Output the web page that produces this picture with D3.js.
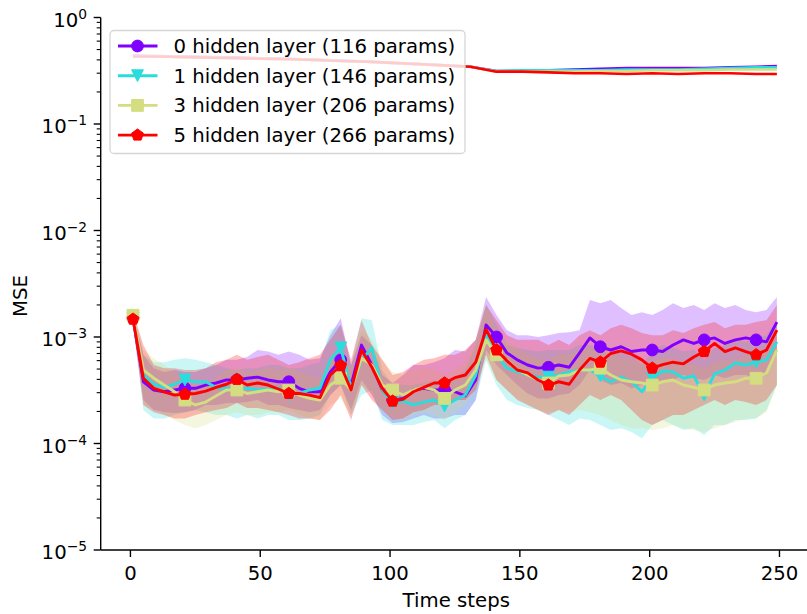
<!DOCTYPE html>
<html><head><meta charset="utf-8">
<script src="https://cdn.jsdelivr.net/npm/d3@7/dist/d3.min.js"></script>
<style>body{margin:0;background:#fff} text{font-family:"DejaVu Sans",sans-serif;fill:#000}</style>
</head><body><svg id="c" width="807" height="614"></svg>
<script>
// ---------------- DATA ----------------
const seriesNames = ["0 hidden layer (116 params)","1 hidden layer (146 params)","3 hidden layer (206 params)","5 hidden layer (266 params)"];
const seriesColors = ["#8000ff","#2adddd","#d4dd80","#ff0000"];
const seriesMarkers = ["circle","triangleDown","square","pentagon"];
// time steps sampled every 4 steps (1..249)
const steps = [1,5,9,13,17,21,25,29,33,37,41,45,49,53,57,61,65,69,73,77,81,85,89,93,97,101,105,109,113,117,121,125,129,133,137,141,145,149,153,157,161,165,169,173,177,181,185,189,193,197,201,205,209,213,217,221,225,229,233,237,241,245,249];
const markerSteps = [1,21,41,61,81,101,121,141,161,181,201,221,241];

// test MSE (mean)
const mean0 = [1.5e-3,3.8e-4,3.18e-4,3.06e-4,3.18e-4,3.3e-4,3.3e-4,3.54e-4,3.7e-4,3.95e-4,3.95e-4,4.1e-4,4.2e-4,3.95e-4,3.8e-4,3.8e-4,3.3e-4,3.06e-4,3.06e-4,4.7e-4,6.1e-4,3.54e-4,8.4e-4,5.46e-4,3.18e-4,2.56e-4,2.65e-4,3.18e-4,3.3e-4,3.18e-4,3.18e-4,3.06e-4,2.8e-4,3.95e-4,1.3e-3,1.0e-3,7.1e-4,6.1e-4,5.46e-4,5.1e-4,5.2e-4,5.46e-4,5.2e-4,7.1e-4,9.8e-4,8.1e-4,7.55e-4,8.1e-4,7.3e-4,7.55e-4,7.55e-4,7.3e-4,8.4e-4,9.4e-4,8.7e-4,9.4e-4,9.8e-4,8.7e-4,9.4e-4,9.8e-4,9.4e-4,9.0e-4,1.38e-3];
const mean1 = [1.5e-3,4.4e-4,3.6e-4,3.36e-4,3.6e-4,3.95e-4,3.8e-4,3.8e-4,3.36e-4,3.3e-4,3.18e-4,3.3e-4,3.18e-4,3.25e-4,3.3e-4,2.85e-4,2.95e-4,3.18e-4,3.3e-4,6.1e-4,7.9e-4,3.3e-4,6.1e-4,7.9e-4,3.18e-4,2.4e-4,2.5e-4,2.3e-4,2.45e-4,2.56e-4,2.25e-4,2.56e-4,2.85e-4,4.4e-4,1.04e-3,6.8e-4,5.1e-4,4.7e-4,4.4e-4,4.2e-4,4.2e-4,4.4e-4,4.7e-4,4.9e-4,4.9e-4,4.3e-4,3.8e-4,4.2e-4,3.8e-4,3.06e-4,4.1e-4,4.8e-4,4.7e-4,4.1e-4,4.3e-4,2.85e-4,4.5e-4,4.9e-4,5.7e-4,5.46e-4,5.8e-4,6.1e-4,9.0e-4];
const mean3 = [1.6e-3,4.9e-4,4.1e-4,3.54e-4,3.06e-4,2.56e-4,2.3e-4,2.45e-4,2.8e-4,3.18e-4,3.18e-4,2.95e-4,3.06e-4,3.18e-4,3.06e-4,3.18e-4,2.85e-4,2.65e-4,2.56e-4,3.54e-4,4.1e-4,3.18e-4,6.3e-4,5.46e-4,3.54e-4,3.18e-4,2.85e-4,3.18e-4,3.36e-4,3.18e-4,2.65e-4,3.18e-4,3.54e-4,4.9e-4,9.4e-4,6.8e-4,6.1e-4,4.9e-4,4.4e-4,3.95e-4,3.7e-4,4.3e-4,4.4e-4,4.9e-4,4.9e-4,5.1e-4,4.4e-4,3.95e-4,3.8e-4,3.7e-4,3.54e-4,3.8e-4,3.95e-4,3.54e-4,3.36e-4,3.18e-4,3.54e-4,3.7e-4,3.8e-4,4.1e-4,4.1e-4,4.6e-4,7.55e-4];
const mean5 = [1.47e-3,4.1e-4,3.3e-4,3.06e-4,2.85e-4,2.9e-4,2.95e-4,3.1e-4,3.36e-4,3.6e-4,4.0e-4,3.54e-4,3.7e-4,3.54e-4,3.25e-4,2.95e-4,2.95e-4,2.85e-4,2.7e-4,4.4e-4,5.4e-4,3.18e-4,7.55e-4,5.2e-4,3.3e-4,2.5e-4,2.6e-4,3.06e-4,3.36e-4,3.7e-4,3.7e-4,4.15e-4,4.4e-4,5.8e-4,1.18e-3,7.55e-4,6.0e-4,4.9e-4,4.6e-4,3.95e-4,3.54e-4,3.8e-4,3.6e-4,4.9e-4,6.3e-4,5.8e-4,7.0e-4,7.4e-4,6.9e-4,6.1e-4,5.1e-4,5.5e-4,5.8e-4,5.6e-4,6.5e-4,7.3e-4,8.7e-4,7.3e-4,7.9e-4,7.3e-4,6.8e-4,7.55e-4,1.16e-3];

// spread bands (upper / lower)
const upper0 = [1.71e-3,6.8e-4,5.1e-4,4.7e-4,4.9e-4,4.7e-4,4.7e-4,5.1e-4,5.46e-4,6.1e-4,6.1e-4,6.5e-4,7.55e-4,7.3e-4,6.8e-4,7.3e-4,6.8e-4,6.1e-4,6.3e-4,1.04e-3,1.5e-3,5.46e-4,1.04e-3,8.4e-4,4.4e-4,3.7e-4,4.4e-4,5.46e-4,5.46e-4,5.8e-4,6.3e-4,7.55e-4,7.3e-4,9.4e-4,2.37e-3,1.61e-3,1.16e-3,1.04e-3,1.04e-3,1.0e-3,1.04e-3,1.09e-3,1.11e-3,1.16e-3,2.22e-3,2.07e-3,2.22e-3,1.87e-3,1.61e-3,1.71e-3,1.61e-3,1.79e-3,2.07e-3,1.87e-3,2.0e-3,1.79e-3,2.07e-3,1.87e-3,2.0e-3,1.79e-3,1.71e-3,1.79e-3,2.37e-3];
const lower0 = [1.3e-3,2.56e-4,2.06e-4,1.97e-4,1.93e-4,1.97e-4,2.06e-4,2.3e-4,2.3e-4,2.4e-4,2.4e-4,2.45e-4,2.56e-4,2.3e-4,2.3e-4,2.15e-4,2.06e-4,1.97e-4,2.06e-4,2.85e-4,3.54e-4,2.06e-4,3.95e-4,2.85e-4,1.85e-4,1.55e-4,1.59e-4,1.72e-4,1.85e-4,1.72e-4,1.72e-4,1.85e-4,1.85e-4,2.56e-4,7.55e-4,5.46e-4,4.4e-4,3.54e-4,2.95e-4,2.65e-4,2.65e-4,2.85e-4,2.95e-4,3.54e-4,4.9e-4,3.95e-4,3.54e-4,3.7e-4,3.3e-4,3.54e-4,3.54e-4,3.7e-4,3.95e-4,4.4e-4,4.1e-4,3.95e-4,4.4e-4,4.1e-4,4.4e-4,4.4e-4,4.1e-4,4.4e-4,7.55e-4];
const upper1 = [1.71e-3,6.8e-4,5.8e-4,5.8e-4,6.1e-4,6.3e-4,6.1e-4,5.8e-4,5.46e-4,5.1e-4,4.9e-4,5.1e-4,5.1e-4,5.46e-4,5.46e-4,5.1e-4,5.1e-4,5.46e-4,5.8e-4,1.16e-3,1.3e-3,5.46e-4,1.5e-3,1.44e-3,4.9e-4,3.54e-4,3.54e-4,3.54e-4,3.7e-4,3.95e-4,3.54e-4,4.1e-4,4.9e-4,8.4e-4,2.0e-3,1.3e-3,8.4e-4,7.9e-4,7.55e-4,7.3e-4,7.55e-4,7.55e-4,7.55e-4,8.4e-4,8.4e-4,7.55e-4,6.8e-4,7.55e-4,6.8e-4,5.46e-4,7.3e-4,8.4e-4,7.9e-4,7.3e-4,7.55e-4,6.1e-4,7.9e-4,8.4e-4,9.4e-4,9.0e-4,9.8e-4,1.04e-3,1.44e-3];
const lower1 = [1.3e-3,2.06e-4,1.72e-4,1.72e-4,1.85e-4,1.97e-4,2.06e-4,1.97e-4,1.85e-4,1.85e-4,1.72e-4,1.85e-4,1.72e-4,1.85e-4,1.85e-4,1.66e-4,1.66e-4,1.72e-4,1.85e-4,2.85e-4,3.54e-4,1.85e-4,2.85e-4,3.18e-4,1.66e-4,1.49e-4,1.49e-4,1.49e-4,1.59e-4,1.66e-4,1.39e-4,1.66e-4,1.85e-4,2.56e-4,6.1e-4,3.54e-4,2.56e-4,2.3e-4,2.15e-4,2.06e-4,1.85e-4,1.66e-4,1.49e-4,1.72e-4,1.66e-4,1.49e-4,1.34e-4,1.39e-4,1.28e-4,1.12e-4,1.49e-4,1.66e-4,1.49e-4,1.34e-4,1.39e-4,1.2e-4,1.49e-4,1.49e-4,1.66e-4,1.66e-4,1.72e-4,2.06e-4,3.54e-4];
const upper3 = [1.79e-3,7.55e-4,6.3e-4,5.46e-4,4.7e-4,3.95e-4,3.54e-4,3.54e-4,4.1e-4,4.9e-4,5.1e-4,4.7e-4,4.9e-4,5.1e-4,4.9e-4,5.1e-4,4.7e-4,4.4e-4,4.1e-4,6.1e-4,7.9e-4,4.9e-4,1.16e-3,9.4e-4,6.1e-4,4.7e-4,4.4e-4,4.9e-4,5.1e-4,4.9e-4,4.4e-4,4.9e-4,5.8e-4,9.4e-4,2.0e-3,1.16e-3,9.4e-4,7.9e-4,6.8e-4,6.3e-4,6.1e-4,6.8e-4,6.8e-4,7.55e-4,7.9e-4,8.4e-4,7.3e-4,6.3e-4,6.1e-4,6.1e-4,5.8e-4,6.3e-4,6.3e-4,5.8e-4,5.46e-4,5.1e-4,5.8e-4,6.1e-4,6.1e-4,6.8e-4,6.8e-4,7.55e-4,1.44e-3];
const lower3 = [1.38e-3,2.3e-4,2.06e-4,1.85e-4,1.66e-4,1.49e-4,1.39e-4,1.49e-4,1.66e-4,1.85e-4,1.97e-4,1.85e-4,1.85e-4,1.97e-4,1.97e-4,2.06e-4,1.85e-4,1.72e-4,1.66e-4,2.3e-4,2.65e-4,1.85e-4,3.54e-4,2.85e-4,2.06e-4,1.72e-4,1.66e-4,1.85e-4,1.97e-4,1.85e-4,1.66e-4,1.97e-4,2.3e-4,3.18e-4,6.1e-4,3.95e-4,3.18e-4,2.65e-4,2.3e-4,2.06e-4,1.97e-4,2.06e-4,1.97e-4,2.06e-4,1.97e-4,1.85e-4,1.66e-4,1.49e-4,1.39e-4,1.39e-4,1.34e-4,1.39e-4,1.49e-4,1.39e-4,1.34e-4,1.28e-4,1.39e-4,1.49e-4,1.59e-4,1.72e-4,1.72e-4,1.97e-4,3.54e-4];
const upper5 = [1.71e-3,8.4e-4,5.46e-4,5.1e-4,5.1e-4,4.9e-4,4.9e-4,5.1e-4,5.8e-4,6.1e-4,6.8e-4,6.1e-4,6.5e-4,6.8e-4,6.1e-4,5.46e-4,5.8e-4,6.3e-4,6.8e-4,9.4e-4,1.3e-3,6.1e-4,1.44e-3,8.4e-4,6.1e-4,4.4e-4,4.7e-4,5.46e-4,6.1e-4,6.3e-4,6.8e-4,6.8e-4,7.55e-4,9.4e-4,2.0e-3,1.44e-3,1.04e-3,9.4e-4,9.4e-4,9.4e-4,8.4e-4,9.4e-4,8.4e-4,1.04e-3,1.16e-3,1.04e-3,1.21e-3,1.3e-3,1.21e-3,1.09e-3,1.04e-3,1.04e-3,1.16e-3,1.09e-3,1.21e-3,1.3e-3,1.38e-3,1.21e-3,1.3e-3,1.3e-3,1.38e-3,1.44e-3,2.0e-3];
const lower5 = [1.3e-3,2.3e-4,1.97e-4,1.85e-4,1.72e-4,1.72e-4,1.85e-4,1.97e-4,2.06e-4,2.15e-4,2.4e-4,2.15e-4,2.15e-4,2.06e-4,1.97e-4,1.85e-4,1.72e-4,1.72e-4,1.66e-4,2.06e-4,2.85e-4,1.66e-4,3.54e-4,2.56e-4,2.06e-4,1.66e-4,1.72e-4,1.97e-4,2.06e-4,2.3e-4,2.3e-4,2.56e-4,2.56e-4,3.18e-4,6.8e-4,3.95e-4,3.18e-4,2.56e-4,2.3e-4,2.06e-4,1.85e-4,2.06e-4,1.85e-4,2.3e-4,2.85e-4,2.56e-4,2.85e-4,2.56e-4,2.06e-4,1.66e-4,1.49e-4,1.66e-4,1.85e-4,1.85e-4,2.06e-4,2.3e-4,2.56e-4,2.3e-4,2.56e-4,2.45e-4,2.3e-4,2.56e-4,3.54e-4];

// upper (training-like) curves, sampled every 10 steps
const topSteps = [1,11,21,31,41,51,61,71,81,91,101,111,121,131,141,151,161,171,181,191,201,211,221,231,241,249];
const top0 = [0.44,0.435,0.43,0.425,0.42,0.415,0.41,0.40,0.395,0.385,0.375,0.365,0.355,0.345,0.315,0.315,0.32,0.325,0.33,0.335,0.335,0.335,0.335,0.34,0.345,0.35];
const top1 = [0.43,0.43,0.425,0.42,0.415,0.41,0.405,0.40,0.39,0.385,0.375,0.365,0.355,0.345,0.315,0.32,0.32,0.32,0.32,0.325,0.325,0.325,0.33,0.335,0.34,0.34];
const top3 = [0.43,0.43,0.425,0.42,0.415,0.41,0.405,0.40,0.39,0.385,0.375,0.365,0.355,0.345,0.31,0.31,0.31,0.31,0.315,0.315,0.32,0.32,0.32,0.325,0.325,0.325];
const top5 = [0.43,0.43,0.425,0.42,0.415,0.41,0.405,0.40,0.39,0.385,0.375,0.365,0.355,0.345,0.31,0.31,0.305,0.30,0.30,0.295,0.30,0.295,0.30,0.30,0.295,0.295];

const xTicks = [0,50,100,150,200,250];
const yDecades = [-5,-4,-3,-2,-1,0];

// ---------------- DRAW ----------------
const FS = 19.7;
const svg = d3.select("#c");
const x = d3.scaleLinear().domain([-11.45, 262.45]).range([100.7, 811.8]);
const y = d3.scaleLog().domain([1e-5, 1]).range([550, 17.5]);

const means = [mean0, mean1, mean3, mean5];
const uppers = [upper0, upper1, upper3, upper5];
const lowers = [lower0, lower1, lower3, lower5];
const tops = [top0, top1, top3, top5];

function markerPath(type, r) {
  if (type === "circle") return d3.symbol(d3.symbolCircle, Math.PI * r * r)();
  if (type === "square") return `M${-r},${-r}H${r}V${r}H${-r}Z`;
  if (type === "triangleDown") return `M0,${r}L${-r},${-r}L${r},${-r}Z`;
  if (type === "pentagon") {
    const pts = d3.range(5).map(k => { const a = -Math.PI/2 + k*2*Math.PI/5; return [r*Math.cos(a), r*Math.sin(a)]; });
    return "M" + pts.map(p => p.join(",")).join("L") + "Z";
  }
}
const markerR = {circle:5.9, square:5.9, triangleDown:5.9, pentagon:6.2};

const plot = svg.append("g");
// top curves
tops.forEach((vals, s) => {
  plot.append("path")
    .datum(vals)
    .attr("fill","none").attr("stroke", seriesColors[s]).attr("stroke-width", 2.6)
    .attr("stroke-linejoin","round")
    .attr("d", d3.line().x((d,i)=>x(topSteps[i])).y(d=>y(d)));
});
// bands
uppers.forEach((up, s) => {
  plot.append("path")
    .datum(up)
    .attr("fill", seriesColors[s]).attr("fill-opacity", 0.25).attr("stroke","none")
    .attr("d", d3.area().x((d,i)=>x(steps[i])).y0((d,i)=>y(lowers[s][i])).y1(d=>y(d)));
});
// mean lines + markers
means.forEach((vals, s) => {
  plot.append("path")
    .datum(vals)
    .attr("fill","none").attr("stroke", seriesColors[s]).attr("stroke-width", 2.9)
    .attr("stroke-linejoin","round")
    .attr("d", d3.line().x((d,i)=>x(steps[i])).y(d=>y(d)));
  const mk = markerSteps.map(t => ({t, v: vals[steps.indexOf(t)]}));
  plot.selectAll(null).data(mk).enter().append("path")
    .attr("d", markerPath(seriesMarkers[s], markerR[seriesMarkers[s]]))
    .attr("transform", d => `translate(${x(d.t)},${y(d.v)})`)
    .attr("fill", seriesColors[s]).attr("stroke", seriesColors[s]).attr("stroke-width", 1);
});

// axes
const ax = svg.append("g");
ax.append("line").attr("x1",100.7).attr("x2",100.7).attr("y1",17.5).attr("y2",550).attr("stroke","#000").attr("stroke-width",1.4);
ax.append("line").attr("x1",100.7).attr("x2",807).attr("y1",550).attr("y2",550).attr("stroke","#000").attr("stroke-width",1.4);
xTicks.forEach(t => {
  ax.append("line").attr("x1",x(t)).attr("x2",x(t)).attr("y1",550).attr("y2",557).attr("stroke","#000").attr("stroke-width",1.4);
  ax.append("text").attr("x",x(t)).attr("y",580).attr("text-anchor","middle").attr("font-size",FS).text(t);
});
yDecades.forEach(e => {
  const v = Math.pow(10, e);
  ax.append("line").attr("x1",93.7).attr("x2",100.7).attr("y1",y(v)).attr("y2",y(v)).attr("stroke","#000").attr("stroke-width",1.4);
  const tx = ax.append("text").attr("x",87).attr("y",y(v)+9).attr("text-anchor","end").attr("font-size",FS);
  tx.append("tspan").text("10");
  tx.append("tspan").attr("font-size",FS*0.7).attr("dy",-8).text(e === 0 ? "0" : "\u2212" + Math.abs(e));
  if (e < 0) {
    for (let k = 2; k <= 9; k++) {
      const mv = k * v;
      ax.append("line").attr("x1",96.7).attr("x2",100.7).attr("y1",y(mv)).attr("y2",y(mv)).attr("stroke","#000").attr("stroke-width",1.1);
    }
  }
});
ax.append("text").attr("x",(100.7+811.8)/2).attr("y",607).attr("text-anchor","middle").attr("font-size",FS).text("Time steps");
ax.append("text").attr("transform","translate(27,296) rotate(-90)").attr("text-anchor","middle").attr("font-size",FS).text("MSE");

// legend
const lg = svg.append("g");
lg.append("rect").attr("x",110).attr("y",30.5).attr("width",355).attr("height",123).attr("rx",4)
  .attr("fill","#fff").attr("fill-opacity",0.8).attr("stroke","#d6d6d6").attr("stroke-width",1.3);
seriesNames.forEach((name, s) => {
  const cy = 46 + s * 29.7;
  lg.append("line").attr("x1",118).attr("x2",157.5).attr("y1",cy).attr("y2",cy).attr("stroke",seriesColors[s]).attr("stroke-width",2.9);
  lg.append("path").attr("d", markerPath(seriesMarkers[s], markerR[seriesMarkers[s]]))
    .attr("transform",`translate(137.5,${cy})`).attr("fill",seriesColors[s]).attr("stroke",seriesColors[s]).attr("stroke-width",1);
  lg.append("text").attr("x",173.5).attr("y",cy+7).attr("font-size",FS).text(name);
});
</script>
</body></html>
